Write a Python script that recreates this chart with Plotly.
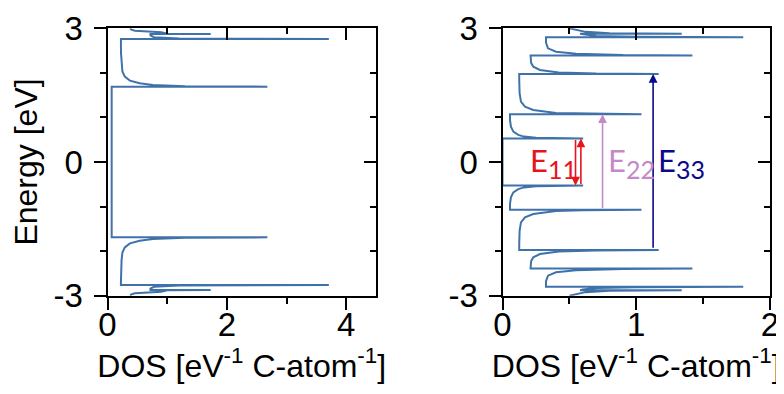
import plotly.graph_objects as go

# ---------------- data ----------------
# Left panel: metallic tube DOS (x = DOS, y = energy in eV)
metal_energy = [-3.0, -2.97, -2.945, -2.91, -2.88, -2.87, -2.87, -2.84, -2.80, -2.77, -2.76, -2.76,
                -2.70, -2.45, -2.20, -2.03, -1.915, -1.826, -1.766, -1.73, -1.70, -1.69, -1.69,
                1.69, 1.69, 1.70, 1.73, 1.766, 1.826, 1.915, 2.03, 2.20, 2.45, 2.70,
                2.76, 2.76, 2.77, 2.80, 2.84, 2.87, 2.87, 2.88, 2.91, 2.945, 2.97, 3.0]
metal_dos = [0.38, 0.40, 0.46, 0.90, 1.00, 1.73, 0.72, 0.72, 0.78, 1.20, 3.71, 0.225,
             0.225, 0.226, 0.236, 0.25, 0.29, 0.375, 0.54, 0.76, 1.30, 2.68, 0.07,
             0.07, 2.68, 1.30, 0.76, 0.54, 0.375, 0.29, 0.25, 0.236, 0.226, 0.225,
             0.225, 3.71, 1.20, 0.78, 0.72, 0.72, 1.73, 1.00, 0.90, 0.46, 0.40, 0.38]

# Right panel: semiconducting tube DOS
semi_energy = [-3.0, -2.96, -2.92, -2.89, -2.88, -2.88, -2.86, -2.83, -2.81, -2.80, -2.80,
               -2.68, -2.55, -2.475, -2.43, -2.40, -2.39, -2.39,
               -2.26, -2.215, -2.14, -2.065, -2.01, -1.985, -1.975, -1.975,
               -1.84, -1.54, -1.354, -1.243, -1.168, -1.10, -1.08, -1.07, -1.07,
               -0.944, -0.794, -0.682, -0.608, -0.57, -0.545, -0.535, -0.53, -0.53,
               0.53, 0.53, 0.535, 0.545, 0.57, 0.608, 0.682, 0.794, 0.944,
               1.07, 1.07, 1.08, 1.10, 1.168, 1.243, 1.354, 1.54, 1.84,
               1.975, 1.975, 1.985, 2.01, 2.065, 2.14, 2.215, 2.26,
               2.39, 2.39, 2.40, 2.43, 2.475, 2.55, 2.68,
               2.80, 2.80, 2.81, 2.83, 2.86, 2.88, 2.88, 2.89, 2.92, 2.96, 3.0]
semi_dos = [0.50, 0.55, 0.62, 0.80, 1.34, 0.58, 0.60, 0.70, 1.00, 1.80, 0.325,
            0.325, 0.34, 0.40, 0.55, 0.90, 1.42, 0.21,
            0.213, 0.215, 0.23, 0.28, 0.42, 0.70, 1.168, 0.125,
            0.125, 0.128, 0.138, 0.168, 0.23, 0.40, 0.60, 1.039, 0.056,
            0.056, 0.063, 0.081, 0.118, 0.16, 0.25, 0.45, 0.603, 0.0,
            0.0, 0.603, 0.45, 0.25, 0.16, 0.118, 0.081, 0.063, 0.056,
            0.056, 1.039, 0.60, 0.40, 0.23, 0.168, 0.138, 0.128, 0.125,
            0.125, 1.168, 0.70, 0.42, 0.28, 0.23, 0.215, 0.213,
            0.21, 1.42, 0.90, 0.55, 0.40, 0.34, 0.325,
            0.325, 1.80, 1.00, 0.70, 0.60, 0.58, 1.34, 0.80, 0.62, 0.55, 0.50]

# optical transitions (lower level, upper level) in eV
e11_levels = [-0.53, 0.53]
e22_levels = [-1.07, 1.07]
e33_levels = [-1.955, 1.975]

y_ticks = [-3, 0, 3]
y_minor = [-2, -1, 1, 2]
left_x_ticks = [0, 2, 4]
left_x_minor = [1, 3]
right_x_ticks = [0, 1, 2]
right_x_minor = [0.5, 1.5]

# ---------------- figure ----------------
OFF = 8                       # default page margin of the html body
W, H = 784 - OFF, 394 - 2 * OFF
LINE = "#4072aa"
TICKFONT = dict(family="Liberation Sans, Arial, sans-serif", size=33, color="black")
TITLEFONT = dict(family="Liberation Sans, Arial, sans-serif", size=32, color="black")

fig = go.Figure()
fig.add_trace(go.Scatter(x=metal_dos, y=metal_energy, mode="lines",
                         line=dict(color=LINE, width=2), xaxis="x", yaxis="y",
                         showlegend=False, hoverinfo="skip"))
fig.add_trace(go.Scatter(x=semi_dos, y=semi_energy, mode="lines",
                         line=dict(color=LINE, width=2), xaxis="x2", yaxis="y2",
                         showlegend=False, hoverinfo="skip"))
# empty traces so that mirror tick axes are drawn
fig.add_trace(go.Scatter(x=[None], y=[None], xaxis="x3", yaxis="y3", showlegend=False))
fig.add_trace(go.Scatter(x=[None], y=[None], xaxis="x4", yaxis="y4", showlegend=False))


def px_x(v):
    return (v - OFF) / W


def px_y(v):
    return 1 - (v - OFF) / H


dom_l = [px_x(107.5), px_x(376)]
dom_r = [px_x(502.5), px_x(770)]
dom_y = [px_y(295.7), px_y(28.3)]

MAJ, MIN = 12, 6


def base_axis(**kw):
    d = dict(showgrid=False, zeroline=False, showline=True, linecolor="black", linewidth=2,
             mirror=True, ticks="outside", ticklen=MAJ, tickwidth=2, tickcolor="black",
             tickfont=TICKFONT, automargin=False)
    d.update(kw)
    return d


def mirror_axis(**kw):
    d = dict(showgrid=False, zeroline=False, showline=False, ticks="inside", ticklen=MAJ,
             tickwidth=2, tickcolor="black", showticklabels=False, automargin=False)
    d.update(kw)
    return d


XTITLE = "DOS [eV<sup>-1</sup> C-atom<sup>-1</sup>]"

fig.update_layout(
    width=W, height=H, margin=dict(l=0, r=0, t=0, b=0),
    paper_bgcolor="white", plot_bgcolor="white", showlegend=False,
    xaxis=base_axis(domain=dom_l, range=[0, 4.5], anchor="y", ticklabelstandoff=-13,
                    tickmode="array", tickvals=left_x_ticks, ticktext=[str(v) for v in left_x_ticks],
                    minor=dict(tickvals=left_x_minor, ticks="outside", ticklen=MIN, tickwidth=2, tickcolor="black"),
                    title=dict(text=XTITLE, font=TITLEFONT, standoff=8)),
    yaxis=base_axis(domain=dom_y, range=[-3, 3], anchor="x", ticklabelstandoff=4,
                    tickmode="array", tickvals=y_ticks, ticktext=[str(v) for v in y_ticks],
                    minor=dict(tickvals=y_minor, ticks="outside", ticklen=MIN, tickwidth=2, tickcolor="black"),
                    title=dict(text="Energy [eV]", font=TITLEFONT, standoff=16)),
    xaxis2=base_axis(domain=dom_r, range=[0, 2], anchor="y2", ticklabelstandoff=-13,
                     tickmode="array", tickvals=right_x_ticks, ticktext=[str(v) for v in right_x_ticks],
                     minor=dict(tickvals=right_x_minor, ticks="outside", ticklen=MIN, tickwidth=2, tickcolor="black"),
                     title=dict(text=XTITLE, font=TITLEFONT, standoff=8)),
    yaxis2=base_axis(domain=dom_y, range=[-3, 3], anchor="x2", ticklabelstandoff=4,
                     tickmode="array", tickvals=y_ticks, ticktext=[str(v) for v in y_ticks],
                     minor=dict(tickvals=y_minor, ticks="outside", ticklen=MIN, tickwidth=2, tickcolor="black")),
    xaxis3=mirror_axis(overlaying="x", side="top", anchor="y", range=[0, 4.5],
                       tickmode="array", tickvals=left_x_ticks,
                       minor=dict(tickvals=left_x_minor, ticks="inside", ticklen=MIN, tickwidth=2, tickcolor="black")),
    yaxis3=mirror_axis(overlaying="y", side="right", anchor="x3", range=[-3, 3],
                       tickmode="array", tickvals=y_ticks,
                       minor=dict(tickvals=y_minor, ticks="inside", ticklen=MIN, tickwidth=2, tickcolor="black")),
    xaxis4=mirror_axis(overlaying="x2", side="top", anchor="y2", range=[0, 2],
                       tickmode="array", tickvals=right_x_ticks,
                       minor=dict(tickvals=right_x_minor, ticks="inside", ticklen=MIN, tickwidth=2, tickcolor="black")),
    yaxis4=mirror_axis(overlaying="y2", side="right", anchor="x4", range=[-3, 3],
                       tickmode="array", tickvals=y_ticks,
                       minor=dict(tickvals=y_minor, ticks="inside", ticklen=MIN, tickwidth=2, tickcolor="black")),
)

# transition arrows
RED, PINK, NAVY = "#e8141c", "#c48ac8", "#0a0a8a"


def arrow(x, y_from, y_to, color):
    fig.add_annotation(x=x, y=y_to, ax=x, ay=y_from, xref="x2", yref="y2", axref="x2", ayref="y2",
                       text="", showarrow=True, arrowhead=2, arrowsize=1.1, arrowwidth=1.6,
                       arrowcolor=color, standoff=0, startstandoff=0)


arrow(0.546, e11_levels[1], e11_levels[0], RED)
arrow(0.586, e11_levels[0], e11_levels[1], RED)
arrow(0.748, e22_levels[0], e22_levels[1], PINK)
arrow(1.126, e33_levels[0], e33_levels[1], NAVY)

LABELFONT = "Lato, Open Sans, sans-serif"
for num, xpos, col in [("11", 0.19, RED), ("22", 0.775, PINK), ("33", 1.15, NAVY)]:
    fig.add_annotation(x=xpos, y=0.0, xref="x2", yref="y2",
                       text="E<sub><span style='font-size:25px'>" + num + "</span></sub>",
                       showarrow=False, xanchor="left", yanchor="middle",
                       font=dict(family=LABELFONT, size=31, color=col))

fig.write_html("out.html")
